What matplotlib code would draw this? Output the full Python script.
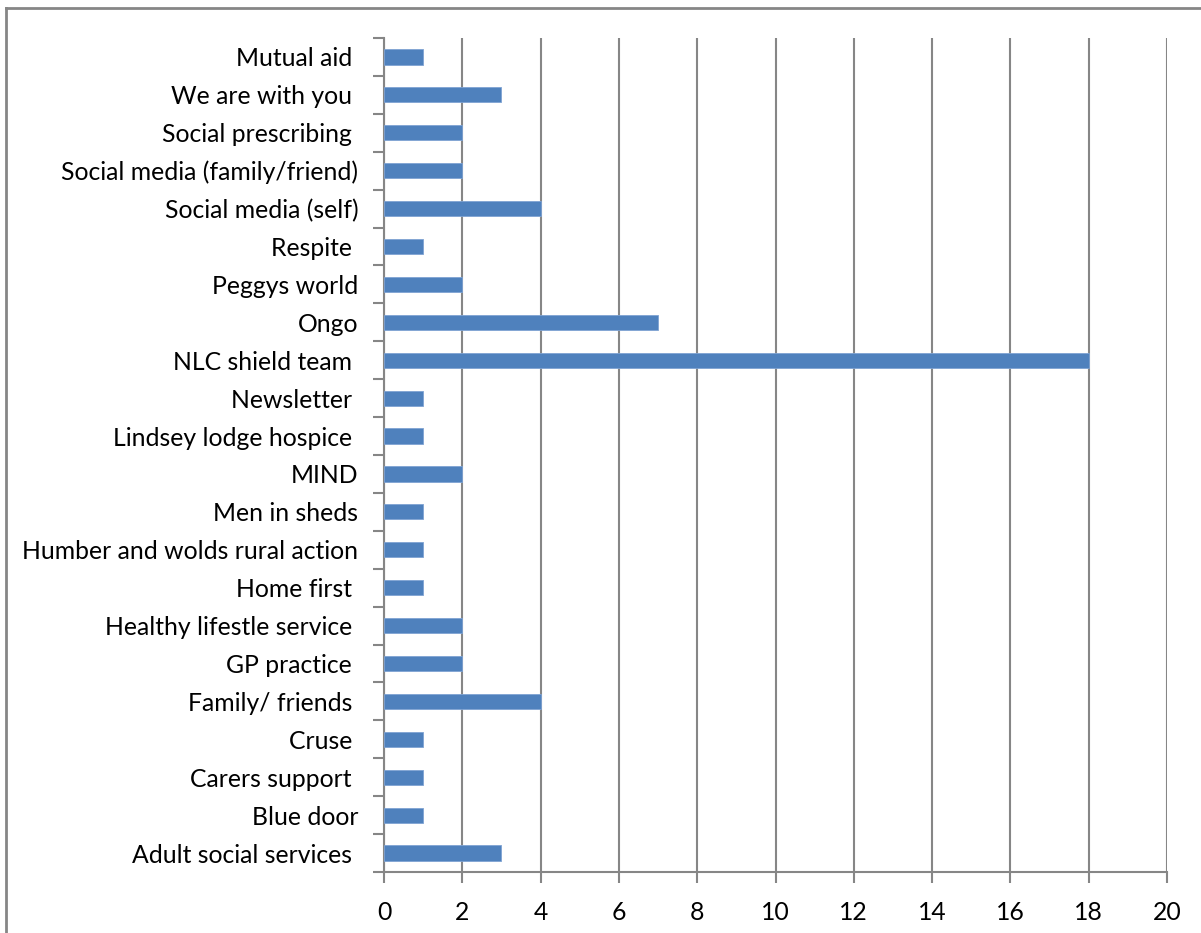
import matplotlib.pyplot as plt
from matplotlib.lines import Line2D

# categories, top to bottom as in the chart
labels = ['Mutual aid ', 'We are with you ', 'Social prescribing ',
          'Social media (family/friend)', 'Social media (self)', 'Respite ',
          'Peggys world', 'Ongo', 'NLC shield team ', 'Newsletter ',
          'Lindsey lodge hospice ', 'MIND', 'Men in sheds',
          'Humber and wolds rural action', 'Home first ',
          'Healthy lifestle service ', 'GP practice ', 'Family/ friends ',
          'Cruse ', 'Carers support ', 'Blue door', 'Adult social services ']
counts = [1, 3, 2, 2, 4, 1, 2, 7, 18, 1, 1, 2, 1, 1, 1, 2, 2, 4, 1, 1, 1, 3]
xticks = list(range(0, 21, 2))

plt.rcParams['font.family'] = ['Lato', 'DejaVu Sans']

W, H = 1201, 933
fig = plt.figure(figsize=(W / 100, H / 100), dpi=100)
ax = fig.add_axes([384 / W, 1 - 872 / H, (1167 - 384) / W, (872 - 38) / H])

gray = '#868686'
n = len(labels)
ypos = list(range(n))[::-1]
ax.barh(ypos, counts, height=0.4, color='#4F81BD', edgecolor='#7FA3D3',
        linewidth=0.6, zorder=3)

ax.set_xlim(0, 20)
ax.set_ylim(-0.5, n - 0.5)
ax.set_xticks(xticks)
ax.set_xticklabels([str(t) for t in xticks])
ax.set_yticks(ypos)
ax.set_yticklabels(labels)
# category boundary ticks
ax.set_yticks([i - 0.5 for i in range(n + 1)], minor=True)
ax.tick_params(axis='y', which='major', length=0, pad=18.5, labelsize=17.8)
ax.tick_params(axis='y', which='minor', length=8, width=1.5, color=gray)
ax.tick_params(axis='x', length=8, width=1.5, color=gray, pad=13, labelsize=17.8)

ax.grid(axis='x', color=gray, linewidth=1.5, zorder=0)
for s in ['top', 'right']:
    ax.spines[s].set_visible(False)
for s in ['left', 'bottom']:
    ax.spines[s].set_color(gray)
    ax.spines[s].set_linewidth(1.5)

# outer chart border
fig.add_artist(Line2D([6 / W, 6 / W], [0, 1 - 8 / H], color=gray, linewidth=2))
fig.add_artist(Line2D([6 / W, 1], [1 - 8 / H, 1 - 8 / H], color=gray, linewidth=2))

fig.savefig('out.png', dpi=100)
